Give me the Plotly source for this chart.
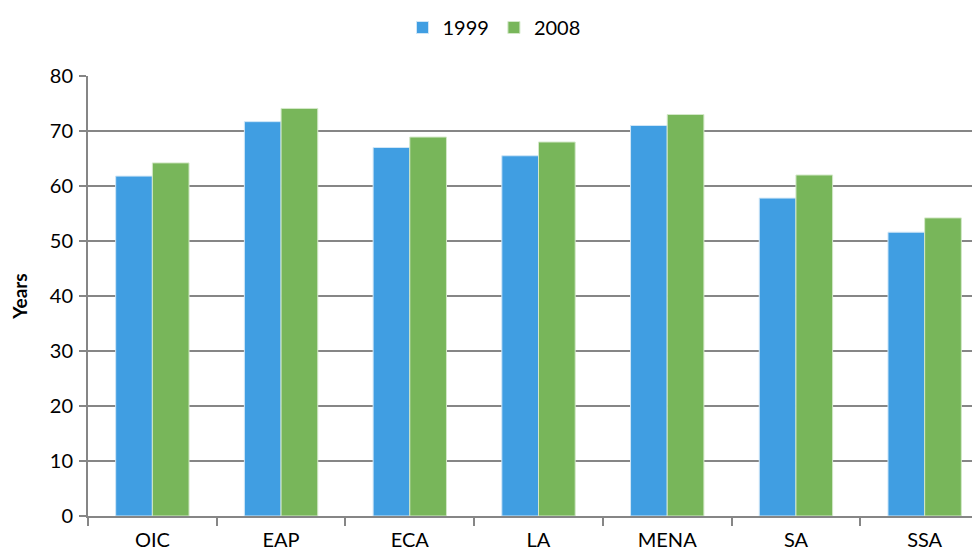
import plotly.graph_objects as go

regions = ["OIC", "EAP", "ECA", "LA", "MENA", "SA", "SSA"]
life_1999 = [61.8, 71.7, 67.0, 65.5, 71.0, 57.8, 51.6]
life_2008 = [64.2, 74.1, 68.9, 68.0, 73.0, 62.0, 54.2]

GRID = "#868686"
FONT = "Lato, 'DejaVu Sans', sans-serif"

fig = go.Figure([
    go.Bar(name="1999", x=regions, y=life_1999,
           marker=dict(color="#409ee2", line=dict(color="#cfe6f7", width=1))),
    go.Bar(name="2008", x=regions, y=life_2008,
           marker=dict(color="#78b65a", line=dict(color="#d3e8c8", width=1))),
])

# page body has an 8px margin, so the figure is shifted by that much
fig.update_layout(
    width=972, height=547,
    margin=dict(l=80, r=0, t=68, b=39),
    paper_bgcolor="white", plot_bgcolor="white",
    barmode="group", bargap=0.43, bargroupgap=0,
    font=dict(family=FONT, size=19, color="black"),
    legend=dict(orientation="h", x=0.5, xanchor="center", xref="container",
                y=1.0, yanchor="top", yref="container",
                font=dict(size=20), itemwidth=30, traceorder="normal"),
)

fig.update_xaxes(
    range=[-0.5, 6.43], showgrid=False, automargin=False,
    showline=True, linecolor=GRID, linewidth=2,
    ticks="outside", tickson="boundaries", ticklen=8, tickcolor=GRID, tickwidth=2,
    tickfont=dict(size=20), ticklabelstandoff=5,
)
fig.update_yaxes(
    range=[0, 80], dtick=10, showgrid=True, gridcolor=GRID, gridwidth=2,
    showline=True, linecolor=GRID, linewidth=2, automargin=False,
    ticks="outside", ticklen=7, tickcolor=GRID, tickwidth=2,
    tickfont=dict(size=20), zeroline=False, ticklabelstandoff=2,
    title=dict(text="<b>Years</b>", font=dict(size=19), standoff=18),
)

fig.write_html("out.html")
